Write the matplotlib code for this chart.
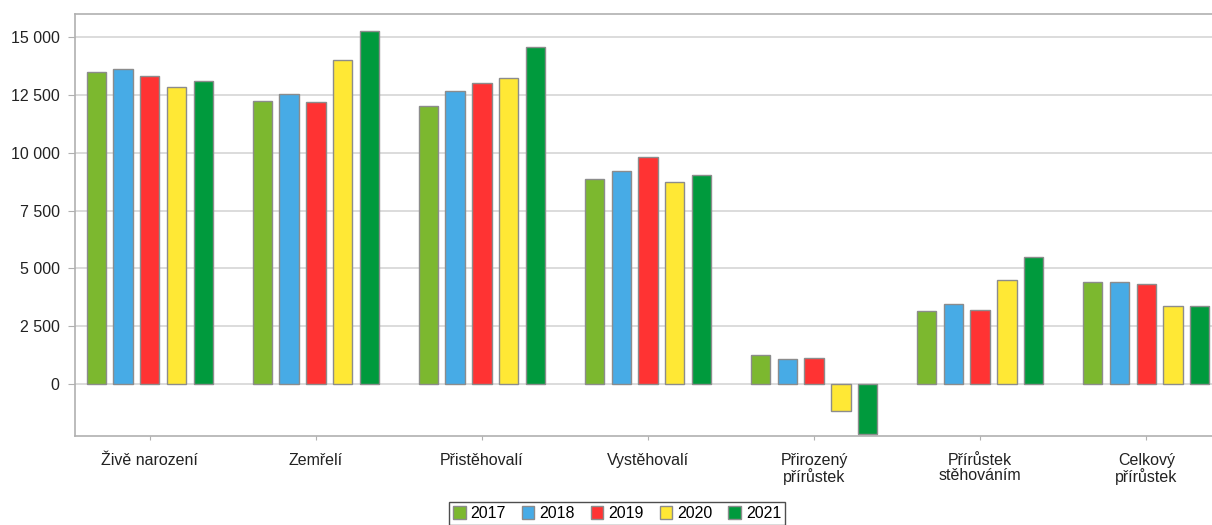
import matplotlib
matplotlib.use("Agg")
import matplotlib.pyplot as plt
import numpy as np
from matplotlib.ticker import FuncFormatter

plt.rcParams["font.family"] = ["Liberation Sans", "DejaVu Sans"]

categories = ["Živě narození", "Zemřelí", "Přistěhovalí", "Vystěhovalí",
              "Přirozený\npřírůstek", "Přírůstek\nstěhováním", "Celkový\npřírůstek"]
years = ["2017", "2018", "2019", "2020", "2021"]

v2017 = [13500, 12246, 12003, 8862, 1254, 3141, 4395]
v2018 = [13600, 12536, 12666, 9222, 1064, 3444, 4424]
v2019 = [13314, 12176, 13025, 9827, 1138, 3198, 4310]
v2020 = [12839, 14019, 13241, 8746, -1180, 4495, 3357]
v2021 = [13085, 15259, 14553, 9048, -2174, 5505, 3357]
series = [v2017, v2018, v2019, v2020, v2021]

colors = ["#7cb82f", "#47abe6", "#ff3333", "#ffe835", "#009a3d"]
yticks = [0, 2500, 5000, 7500, 10000, 12500, 15000]

W, H = 1212, 525
fig = plt.figure(figsize=(W / 100, H / 100), dpi=100)
ax = fig.add_axes([75 / W, 1 - 436 / H, (1221 - 75) / W, (436 - 14) / H])

x = np.arange(len(categories))
step = 0.161
width = 0.117
for i, (vals, col, yr) in enumerate(zip(series, colors, years)):
    ax.bar(x + (i - 2) * step, vals, width=width, color=col,
           edgecolor="#8c8c8c", linewidth=1.0, label=yr, zorder=3)

ax.set_xlim(-0.45, len(categories) - 0.55)
ax.set_ylim(-2250, 16000)
ax.set_yticks(yticks)
ax.yaxis.set_major_formatter(FuncFormatter(lambda v, p: f"{int(v):,}".replace(",", " ")))
ax.set_xticks(x)
ax.set_xticklabels(categories, linespacing=1.0)

ax.grid(axis="y", color="#d9d9d9", linewidth=1.3, zorder=0)
for s in ["left", "bottom", "top"]:
    ax.spines[s].set_color("#b0b0b0")
    ax.spines[s].set_linewidth(1.2)
ax.spines["right"].set_visible(False)

ax.tick_params(axis="y", length=5, color="#b0b0b0", labelsize=11.5,
               labelcolor="#222222", pad=6)
ax.tick_params(axis="x", length=3, color="#b0b0b0", labelsize=11.5,
               labelcolor="#222222", pad=9)

leg = fig.legend(loc="upper center", bbox_to_anchor=(617 / W, 1 - 502 / H),
                 ncol=5, frameon=True, fancybox=False, fontsize=11.5,
                 handlelength=0.8, handleheight=0.8, handletextpad=0.3,
                 columnspacing=1.0, borderpad=0.25, borderaxespad=0)
leg.get_frame().set_edgecolor("#222222")
leg.get_frame().set_linewidth(1.0)

fig.savefig("out.png", dpi=100)
